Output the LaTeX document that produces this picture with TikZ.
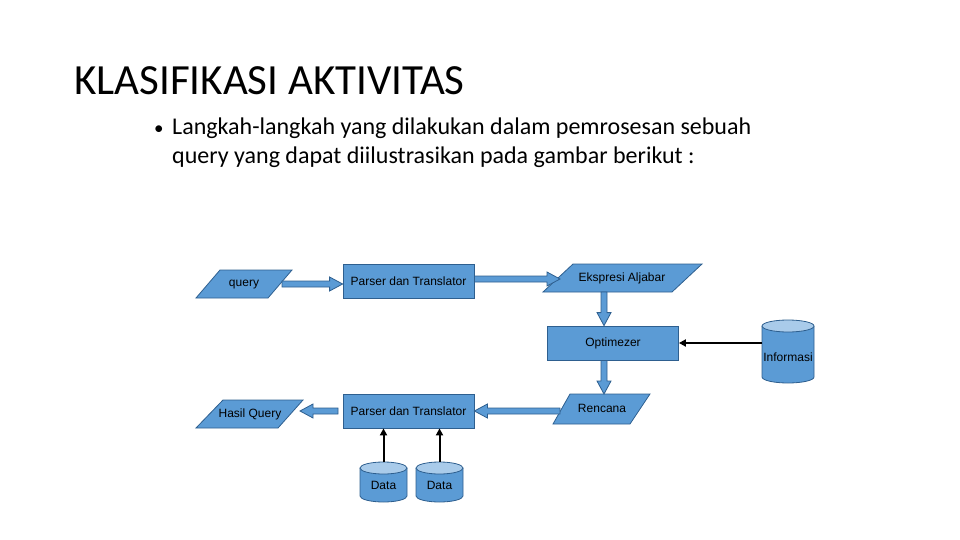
\documentclass[tikz,border=0pt]{standalone}
\usepackage{fontspec}
\setmainfont{Liberation Sans}
\newfontfamily\titlefont{Carlito}
\usetikzlibrary{calc,arrows.meta}
\definecolor{bfill}{HTML}{5B9BD5}
\definecolor{bline}{HTML}{2E5F8F}
\definecolor{btop}{HTML}{A9CBEA}
\tikzset{
  box/.style={draw=bline,fill=bfill,line width=0.8pt,minimum width=131pt,minimum height=34pt,inner sep=0pt,font=\fontsize{12}{14}\selectfont},
  lbl/.style={inner sep=0pt,font=\fontsize{12}{14}\selectfont},
  para/.style={draw=bline,fill=bfill,line width=0.8pt},
  barrow/.style={draw=bline,fill=bfill,line width=0.8pt},
  thin/.style={draw=black,line width=2pt,-{Triangle[length=7pt,width=7pt]}},
  txt/.style={anchor=base west,inner sep=0pt,font=\titlefont\fontsize{24}{28}\selectfont},
}
\newcommand\barrow[2]{\draw[barrow] let \p1=(#1), \p2=(#2), \n1={veclen(\x2-\x1,\y2-\y1)}, \n2={atan2(\y2-\y1,\x2-\x1)} in [shift={(\p1)}, rotate=\n2] (0,-3) -- (\n1-13,-3) -- (\n1-13,-7) -- (\n1,0) -- (\n1-13,7) -- (\n1-13,3) -- (0,3) -- cycle;}
\newcommand\cyl[5]{% cx, left, right, top, bottom
 \fill[bfill] (#2,#4+6) -- (#2,#5-6) arc[start angle=180,end angle=0,x radius={(#3-#2)/2},y radius=6] -- (#3,#4+6) -- cycle;
 \draw[bline,line width=0.8pt] (#2,#4+6) -- (#2,#5-6) arc[start angle=180,end angle=0,x radius={(#3-#2)/2},y radius=6] -- (#3,#4+6);
 \draw[bline,fill=btop,line width=0.8pt] (#1,#4+6) ellipse[x radius={(#3-#2)/2},y radius=6];}
\begin{document}
\begin{tikzpicture}[x=1pt,y=-1pt]
\useasboundingbox (0,0) rectangle (960,540);
\node[anchor=base west,inner sep=0pt,font=\titlefont\fontsize{43}{48}\selectfont] (title) at (74,95) {KLASIFIKASI AKTIVITAS};
\node[anchor=base west,inner sep=0pt,font=\titlefont\fontsize{19}{20}\selectfont] (bul) at (154,135) {\textbullet};
\node[txt] (l1) at (172,135) {Langkah-langkah yang dilakukan dalam pemrosesan sebuah};
\node[txt] (l2) at (172,164) {query yang dapat diilustrasikan pada gambar berikut :};
% parallelograms
\draw[para] (220,270) -- (292,270) -- (268,298) -- (196,298) -- cycle;
\node[lbl] (q) at (244,285) {query};
\draw[para] (573,264) -- (702,264) -- (672,292) -- (543,292) -- cycle;
\node[lbl] (ek) at (622,278) {Ekspresi Aljabar};
\draw[para] (570,394) -- (650,394) -- (630,424) -- (553,424) -- cycle;
\node[lbl] (ren) at (602,408) {Rencana};
\draw[para] (223,400) -- (303,400) -- (278,428) -- (196,428) -- cycle;
\node[lbl] (hq) at (250,414) {Hasil Query};
% boxes
\node[box] (p1) at (408.5,281) {Parser dan Translator};
\node[box] (opt) at (613,343) {Optimezer};
\node[box] (p2) at (408.5,411) {Parser dan Translator};
% cylinders
\cyl{788}{762}{814}{320}{383}
\node[lbl] (inf) at (788,357) {Informasi};
\cyl{383.5}{360}{407}{462}{502}
\node[lbl] (d1) at (383.5,485) {Data};
\cyl{439.5}{416}{463}{462}{502}
\node[lbl] (d2) at (439.5,485) {Data};
% coordinates for arrows
\coordinate (a1) at (282,284); \coordinate (a2) at (p1.west|-a1);
\coordinate (b1) at (p1.east|-0,279); \coordinate (b2) at (560,279);
\coordinate (c1) at (604,292); \coordinate (c2) at (opt.north-|c1);
\coordinate (e1) at (opt.south-|c1); \coordinate (e2) at (604,394);
\coordinate (f1) at (560,411); \coordinate (f2) at (p2.east);
\coordinate (g1) at (338,411); \coordinate (g2) at (300,411);
\barrow{a1}{a2}
\barrow{b1}{b2}
\barrow{c1}{c2}
\barrow{e1}{e2}
\barrow{f1}{f2}
\barrow{g1}{g2}
\coordinate (h1) at (383.5,462); \coordinate (h2) at (439.5,462);
\draw[thin] (h1) -- (h1|-p2.south);
\draw[thin] (h2) -- (h2|-p2.south);
\coordinate (i1) at (762,343);
\draw[thin] (i1) -- (opt.east);
\end{tikzpicture}
\end{document}
